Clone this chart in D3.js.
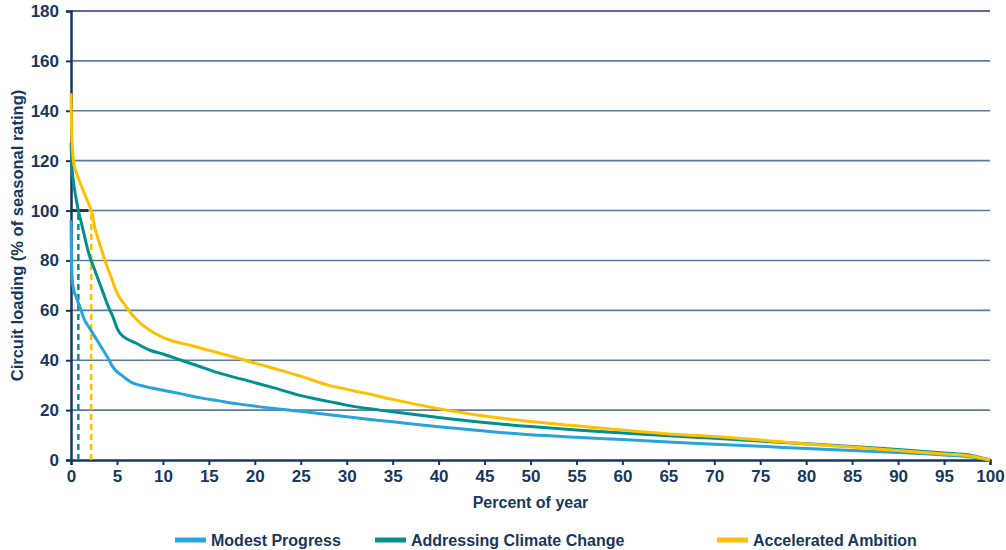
<!DOCTYPE html>
<html>
<head>
<meta charset="utf-8">
<script src="https://cdn.jsdelivr.net/npm/d3@7"></script>
<style>
  body { margin: 0; background: #fff; }
  svg text { font-family: 'Liberation Sans', Arial, sans-serif; font-weight: bold; fill: #17375e; }
</style>
</head>
<body>
<div id="chart"></div>
<script>
// load duration curves: [percent of year, circuit loading %]
const modestProgress = [
  [0, 96], [0.05, 80], [0.15, 72], [0.3, 68], [0.5, 66], [1, 61], [1.5, 56], [2, 53],
  [3, 47], [4, 41], [4.6, 37], [5.5, 34], [6.4, 31.5], [8, 29.5], [10, 28], [12, 26.5],
  [14, 25], [16, 23.8], [18, 22.6], [20, 21.6], [25, 19.5], [30, 17.3], [35, 15.3],
  [40, 13.3], [45, 11.6], [50, 10.1], [55, 9.1], [60, 8.2], [65, 7.2], [70, 6.3],
  [75, 5.5], [80, 4.6], [85, 3.8], [90, 3], [95, 2], [98, 1.2], [100, 0],
];
const addressingClimate = [
  [0, 127], [0.1, 118], [0.25, 112], [0.5, 106], [0.8, 100], [1.2, 94], [2, 82],
  [2.5, 77], [3, 72], [3.5, 67], [4, 62], [4.6, 57], [5, 53], [5.3, 51], [5.7, 49.5],
  [7, 47], [8.6, 44], [10, 42.5], [12, 40], [14, 37.5], [16, 35], [19.5, 31.5],
  [22, 29], [25, 25.8], [28, 23.5], [30, 22], [33.6, 20], [35, 19.3], [40, 17],
  [45, 15], [50, 13.4], [55, 12], [60, 10.8], [66, 9.5], [70, 8.7], [75, 7.6],
  [80, 6.5], [85, 5.4], [90, 4.2], [95, 2.8], [98, 1.8], [100, 0],
];
const acceleratedAmbition = [
  [0, 147], [0.05, 135], [0.15, 125], [0.3, 119], [0.6, 115], [1, 111], [1.5, 106.5],
  [2, 102], [2.25, 99.6], [2.6, 93], [3, 88], [3.7, 80], [4.5, 72], [5, 67], [5.7, 63],
  [6.6, 58.5], [7.5, 55], [8.2, 53], [9.5, 50], [10.8, 48], [13, 46], [16, 43],
  [17.6, 41.4], [19.5, 39.4], [22, 36.8], [25, 33.6], [28, 30], [30, 28.3], [32, 26.8],
  [35, 24.3], [40, 20.6], [45, 17.6], [50, 15.4], [55, 13.7], [60, 12], [66, 10.2],
  [70, 9.4], [75, 8], [80, 6.4], [85, 5.2], [90, 3.8], [95, 2.4], [98, 1.5], [100, 0],
];

const seriesNames = ['Modest Progress', 'Addressing Climate Change', 'Accelerated Ambition'];
const seriesColors = ['#29a3dd', '#00918e', '#ffc000'];
const seriesData = [modestProgress, addressingClimate, acceleratedAmbition];

// percent of year where loading passes 100%
const crossings = [
  { x: 0.8, color: '#00918e' },
  { x: 2.2, color: '#ffc000' },
];

const xTicks = d3.range(0, 101, 5);
const yTicks = d3.range(0, 181, 20);

const width = 1006;
const height = 550;
const margin = { t: 11, r: 16, b: 90, l: 71 };

const svg = d3
  .select('#chart')
  .append('svg')
  .attr('width', width)
  .attr('height', height);

const x = d3.scaleLinear().domain([0, 100]).range([margin.l, width - margin.r]);
const y = d3.scaleLinear().domain([0, 180]).range([height - margin.b, margin.t]);

// gridlines
svg
  .append('g')
  .selectAll('line')
  .data(yTicks.filter((d) => d > 0))
  .join('line')
  .attr('x1', x(0))
  .attr('x2', x(100))
  .attr('y1', (d) => y(d))
  .attr('y2', (d) => y(d))
  .attr('stroke', (d) => (d === 180 ? '#1f3f66' : '#5d7a99'))
  .attr('stroke-width', 1.6);

// Y axis
const yAxis = svg
  .append('g')
  .attr('transform', `translate(${x(0)},0)`)
  .call(d3.axisLeft(y).tickValues(yTicks).tickSize(5).tickPadding(7));
yAxis.select('.domain').attr('stroke', '#17375e').attr('stroke-width', 2.5);
yAxis.selectAll('.tick line').attr('stroke', '#17375e').attr('stroke-width', 2);
yAxis.selectAll('.tick text').attr('font-size', 17).attr('fill', '#17375e');

// X axis
const xAxis = svg
  .append('g')
  .attr('transform', `translate(0,${y(0)})`)
  .call(d3.axisBottom(x).tickValues(xTicks).tickSize(5).tickPadding(5));
xAxis.select('.domain').attr('stroke', '#17375e').attr('stroke-width', 2.5);
xAxis.selectAll('.tick line').attr('stroke', '#17375e').attr('stroke-width', 2);
xAxis.selectAll('.tick text').attr('font-size', 17).attr('fill', '#17375e');

// marker at 100%
svg
  .append('line')
  .attr('x1', x(0))
  .attr('x2', x(1.9))
  .attr('y1', y(100))
  .attr('y2', y(100))
  .attr('stroke', '#17375e')
  .attr('stroke-width', 3);

// dashed verticals
svg
  .append('g')
  .selectAll('line')
  .data(crossings)
  .join('line')
  .attr('x1', (d) => x(d.x))
  .attr('x2', (d) => x(d.x))
  .attr('y1', y(0))
  .attr('y2', y(100))
  .attr('stroke', (d) => d.color)
  .attr('stroke-width', 2.5)
  .attr('stroke-dasharray', '6,4');

// curves
const line = d3
  .line()
  .x((d) => x(d[0]))
  .y((d) => y(d[1]))
  .curve(d3.curveMonotoneX);

svg
  .append('g')
  .selectAll('path')
  .data(seriesData)
  .join('path')
  .attr('d', line)
  .attr('fill', 'none')
  .attr('stroke', (d, i) => seriesColors[i])
  .attr('stroke-width', 3)
  .attr('stroke-linejoin', 'round');

// axis titles
svg
  .append('text')
  .attr('x', x(50))
  .attr('y', 508)
  .attr('text-anchor', 'middle')
  .attr('font-size', 16)
  .text('Percent of year');

svg
  .append('text')
  .attr('transform', `translate(23,${y(90)}) rotate(-90)`)
  .attr('text-anchor', 'middle')
  .attr('font-size', 16.5)
  .text('Circuit loading (% of seasonal rating)');

// legend
const legendX = [175, 375, 717];
const legend = svg
  .append('g')
  .selectAll('g')
  .data(seriesNames)
  .join('g')
  .attr('transform', (d, i) => `translate(${legendX[i]},540)`);
legend
  .append('line')
  .attr('x1', 0)
  .attr('x2', 31)
  .attr('stroke', (d, i) => seriesColors[i])
  .attr('stroke-width', 5);
legend
  .append('text')
  .attr('x', 36)
  .attr('dy', '0.35em')
  .attr('font-size', 16)
  .text((d) => d);
</script>
</body>
</html>
